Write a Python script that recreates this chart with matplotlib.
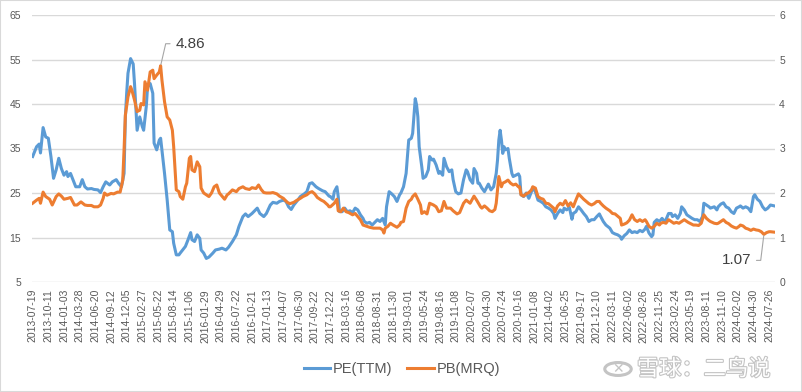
import matplotlib
matplotlib.use("Agg")
import matplotlib.pyplot as plt
import matplotlib.patheffects as pe
from matplotlib.patches import Rectangle, Circle
import numpy as np

# weekly category axis: tick label every 12 weeks
date_labels = ['2013-07-19', '2013-10-11', '2014-01-03', '2014-03-28', '2014-06-20', '2014-09-12',
               '2014-12-05', '2015-02-27', '2015-05-22', '2015-08-14', '2015-11-06', '2016-01-29',
               '2016-04-29', '2016-07-22', '2016-10-21', '2017-01-13', '2017-04-07', '2017-06-30',
               '2017-09-22', '2017-12-22', '2018-03-16', '2018-06-08', '2018-08-31', '2018-11-30',
               '2019-03-01', '2019-05-24', '2019-08-16', '2019-11-08', '2020-02-07', '2020-04-30',
               '2020-07-24', '2020-10-16', '2021-01-08', '2021-04-02', '2021-06-25', '2021-09-17',
               '2021-12-10', '2022-03-11', '2022-06-02', '2022-08-26', '2022-11-25', '2023-02-24',
               '2023-05-19', '2023-08-11', '2023-11-10', '2024-02-02', '2024-04-30', '2024-07-26']
n_weeks = 569

# PE(TTM): week index / value
pe_week = [0, 3, 5, 6, 8, 10, 12, 14, 16, 18, 20, 22, 24, 26, 27, 29, 31, 33, 36, 38, 40, 42, 45, 47, 50,
           52, 54, 56, 59, 61, 64, 66, 68, 70, 71, 72, 73, 75, 77, 78, 79, 80, 82, 84, 85, 87, 88, 90, 92,
           93, 95, 97, 98, 99, 101, 103, 105, 107, 108, 110, 112,
           113, 116, 117, 119, 121, 122, 124, 126, 128, 129, 131, 133, 135, 138, 140, 143, 145, 148, 150,
           153, 156, 158, 161, 163, 165, 168, 170, 172, 174, 177, 179, 182, 184, 187, 189, 192, 194, 196,
           198, 200, 203, 205, 208, 210, 212, 214, 217, 219, 222, 224, 227,
           228, 230, 231, 233, 234, 235, 237, 239, 241, 243, 245, 247, 249, 251, 253, 254, 256, 258, 260,
           262, 264, 266, 268, 270, 271, 273, 275, 277, 279, 281, 282, 284, 286, 287, 288, 290, 291, 293,
           294, 295, 296, 298, 299, 301, 303, 304, 306, 307, 309, 311, 312, 314, 315, 317, 319, 321, 322,
           324, 326, 328, 330, 332, 333, 335, 337, 338, 340, 341,
           342, 344, 346, 348, 349, 351, 353, 355, 356, 357, 358, 359, 360, 361, 362, 364, 365, 367, 368,
           370, 372, 373, 374, 376, 378, 380, 382, 383, 385, 387, 389, 391, 393, 395, 397, 399, 400, 402,
           404, 406, 407, 409, 411, 413, 414, 416, 418, 420, 422, 424, 426, 428, 430, 432, 434, 435, 437,
           439, 442, 444, 446, 448, 450, 451, 453, 455, 457,
           459, 461, 463, 465, 467, 469, 470, 472, 474, 475, 476, 478, 480, 482, 484, 485, 487, 489, 490,
           492, 494, 496, 497, 499, 501, 503, 505, 507, 509, 511, 513, 514, 516, 518, 519, 522, 524, 525,
           527, 529, 531, 533, 535, 537, 539, 541, 542, 544, 546, 548, 550, 552, 553, 555, 557, 559, 561,
           563, 565, 568]
pe_val = [33.2, 35.4, 36, 34, 39.7, 37.6, 37.3, 33.2, 28.3, 30.2, 32.8, 30.5, 29, 29.8, 28.7, 29.4, 27.9,
          26.4, 26.4, 28, 26.4, 25.9, 26, 25.8, 25.7, 25.1, 26.4, 27.5, 26.8, 27.5, 28, 27.1, 26.4, 29.4,
          42.1, 47.4, 51.9, 55.2, 54, 49.6, 44.4, 39.1, 42.1, 39.9, 39.1, 44.4, 48.9, 49.6, 47.4, 36.2, 34.7,
          36.9, 37.3, 34.7, 29.4, 23.5, 16.7, 16.3, 13.7, 11.1, 11.1,
          11.5, 12.6, 13, 14.5, 16.1, 14.5, 14.1, 15.6, 14.8, 12.2, 11.5, 10.3, 10.6, 11.5, 12.2, 12.4, 12.6,
          12.2, 12.8, 14.1, 15.6, 17.5, 19.7, 20.3, 19.7, 20.4, 21, 21.6, 20.4, 19.7, 20.4, 22.3, 22.9, 22.7,
          23.1, 23.4, 23.1, 21.9, 21.3, 22.3, 23.4, 24.2, 24.8, 25.3, 27.1, 27.3, 26.4, 26, 25.5, 25.3, 24.3,
          24.2, 23.6, 25.3, 26.4, 24.2, 20.8, 20.8, 21.6, 20.8, 21, 20.6, 21.6, 21.2, 20.1, 19.3, 18.6, 18.2,
          18.4, 17.8, 18.4, 19, 18.6, 19.3, 17.8, 21.9, 25.3, 24.8, 24.2, 23.1, 24.6, 25, 26.4, 29.4, 33.2,
          36.9, 37.3, 38.4, 46.2, 44.8, 42.1, 35.4, 30.9, 28.3, 28.7, 30.2, 33.2, 32.4, 32.6, 31.3, 29.4,
          29.8, 29, 32.8, 30.9, 29.8, 30.2, 28, 25.3, 24.8, 25, 28, 30.2, 29.8, 28, 27.2, 30.5, 29.4, 27.2,
          27.2, 26.1, 25.3, 26.4, 27, 25.7, 26.4, 29.4, 32.4, 36.9, 39.1, 36.9, 33.9, 35.4, 34.7, 35, 32.8,
          29.4, 28.7, 29, 29.3, 28.7, 24.6, 24.2, 25, 23.8, 25.3, 26.2, 25.3, 23.4, 23.1, 22.7, 21.9, 21.6,
          21.2, 20.4, 19.3, 20.4, 21.2, 20.6, 21.6, 21.2, 21.8, 19.1, 20.4, 20.8, 21.9, 21.2, 20.4, 19.7,
          18.6, 19, 19, 19.7, 20.3, 19.7, 18.6, 17.8, 17.1, 16.1, 15.8, 15.6, 15.2, 14.6, 15.4, 15.9, 16.7,
          16.1, 16.3, 16.1, 16.6, 16.3, 16.9, 17.5, 16, 15.2, 15.6, 18.4, 19, 18.6, 19.3, 18.6, 19, 20.4,
          20.4, 19.7, 20.1, 19.3, 20.4, 21.9, 21.2, 20.1, 19.7, 19.3, 19, 19, 18.6, 19.7, 22.7, 22.3, 21.9,
          21.6, 21.9, 21.2, 21.9, 22.5, 22.8, 21.9, 21.6, 20.8, 20.4, 21.6, 21.9, 22.1, 21.6, 21.9, 21.6,
          20.8, 24.2, 24.6, 23.6, 23.1, 21.9, 21.2, 21.6, 22.3, 22.1]

# PB(MRQ): week index / value
pb_week = [0, 3, 5, 6, 8, 10, 13, 15, 18, 20, 22, 24, 27, 29, 32, 34, 37, 40, 42, 45, 47, 50, 52, 54, 55,
           57, 60, 62, 65, 67, 69, 70, 71, 73, 75, 76, 78, 80, 82, 83, 85, 86, 88, 90, 92, 93, 95, 97, 98,
           99, 101, 103, 105, 107, 108, 110, 112,
           113, 115, 117, 118, 120, 121, 122, 124, 126, 128, 129, 131, 133, 135, 137, 139, 141, 143, 145,
           147, 149, 150, 153, 156, 158, 161, 163, 166, 168, 171, 173, 175, 177, 179, 182, 184, 187, 189,
           192, 195, 197, 200, 202, 205, 207, 210, 212, 214, 216, 218, 221, 223, 226, 227,
           228, 231, 233, 234, 236, 238, 240, 242, 245, 247, 249, 251, 253, 256, 258, 261, 263, 266, 268,
           269, 270, 272, 274, 276, 279, 281, 282, 284, 286, 288, 290, 291, 293, 295, 297, 298, 300, 302,
           304, 307, 309, 311, 313, 315, 317, 320, 322, 325, 327, 330, 332, 335, 337, 338, 340,
           343, 344, 346, 348, 350, 352, 354, 355, 356, 357, 359, 360, 362, 364, 366, 368, 370, 372, 373,
           374, 376, 378, 380, 382, 383, 385, 387, 389, 391, 393, 395, 397, 399, 400, 402, 404, 406, 408,
           410, 412, 414, 416, 418, 420, 422, 424, 426, 428, 430, 432, 434, 435, 437, 439, 442, 444, 446,
           448, 450, 451, 453, 455, 457,
           459, 461, 463, 465, 467, 469, 470, 472, 474, 476, 478, 480, 481, 483, 485, 487, 489, 491, 493,
           495, 497, 499, 501, 502, 504, 506, 508, 510, 512, 514, 516, 518, 519, 522, 524, 525, 527, 529,
           531, 533, 535, 537, 539, 541, 542, 544, 546, 548, 550, 552, 554, 556, 558, 560, 562, 564, 565,
           568]
pb_val = [1.77, 1.84, 1.88, 1.77, 2.02, 1.92, 1.86, 1.73, 1.92, 1.98, 1.93, 1.86, 1.88, 1.90, 1.73, 1.73,
          1.80, 1.73, 1.72, 1.72, 1.69, 1.69, 1.73, 1.88, 2.00, 1.95, 1.99, 1.98, 2.02, 2.02, 2.29, 2.97,
          3.75, 4.16, 4.39, 4.31, 4.09, 3.83, 3.86, 4.01, 3.98, 4.50, 4.31, 4.72, 4.76, 4.57, 4.65, 4.72,
          4.86, 4.54, 4.05, 3.71, 3.64, 3.41, 3.04, 2.07, 2.03,
          1.92, 1.86, 2.14, 2.22, 2.78, 2.82, 2.52, 2.48, 2.70, 2.59, 2.11, 2.00, 1.96, 1.92, 2.00, 2.14,
          2.18, 2.00, 1.93, 1.86, 1.96, 1.98, 2.07, 2.03, 2.10, 2.14, 2.10, 2.08, 2.12, 2.10, 2.18, 2.08,
          2.01, 2.00, 2.00, 2.01, 1.98, 1.93, 1.88, 1.79, 1.76, 1.79, 1.83, 1.88, 1.92, 1.96, 2.01, 2.03,
          1.98, 1.90, 1.84, 1.81, 1.73, 1.69,
          1.69, 1.77, 1.86, 1.60, 1.58, 1.66, 1.58, 1.56, 1.51, 1.54, 1.47, 1.40, 1.28, 1.25, 1.23, 1.21,
          1.21, 1.21, 1.17, 1.10, 1.21, 1.25, 1.32, 1.28, 1.23, 1.28, 1.34, 1.36, 1.66, 1.81, 1.86, 1.92,
          1.98, 1.86, 1.73, 1.54, 1.58, 1.53, 1.77, 1.73, 1.69, 1.58, 1.60, 1.81, 1.66, 1.66, 1.60, 1.53,
          1.56, 1.77, 1.84, 1.77, 1.88, 1.93, 1.84,
          1.69, 1.66, 1.71, 1.66, 1.60, 1.58, 1.63, 1.77, 2.07, 2.37, 2.14, 2.22, 2.25, 2.29, 2.22, 2.18,
          2.20, 2.14, 2.14, 1.96, 1.93, 1.98, 2.01, 2.07, 2.14, 2.11, 1.92, 1.88, 1.86, 1.77, 1.76, 1.71,
          1.66, 1.58, 1.71, 1.77, 1.73, 1.83, 1.71, 1.78, 1.69, 1.84, 1.98, 1.92, 1.86, 1.81, 1.76, 1.73,
          1.76, 1.81, 1.81, 1.77, 1.71, 1.66, 1.60, 1.54, 1.53, 1.48, 1.43, 1.28, 1.30, 1.33, 1.39,
          1.51, 1.40, 1.36, 1.40, 1.36, 1.40, 1.36, 1.25, 1.21, 1.25, 1.32, 1.28, 1.32, 1.34, 1.32, 1.40,
          1.36, 1.32, 1.34, 1.32, 1.36, 1.40, 1.36, 1.34, 1.31, 1.28, 1.28, 1.27, 1.32, 1.51, 1.43, 1.38,
          1.36, 1.32, 1.31, 1.32, 1.36, 1.40, 1.34, 1.31, 1.26, 1.23, 1.21, 1.25, 1.28, 1.26, 1.21, 1.19,
          1.16, 1.19, 1.17, 1.16, 1.13, 1.07, 1.11, 1.13, 1.13, 1.12]

pe_color = '#5B9BD5'
pb_color = '#ED7D31'
txt_color = '#595959'

plt.rcParams['font.family'] = ['Liberation Sans', 'DejaVu Sans']

fig = plt.figure(figsize=(8.02, 3.92), dpi=100)
ax = fig.add_axes([32 / 802, 1 - 282 / 392, 743 / 802, 267 / 392])
ax2 = ax.twinx()

ax.plot(pe_week, pe_val, color=pe_color, lw=2.2, solid_joinstyle='round', label='PE(TTM)')
ax2.plot(pb_week, pb_val, color=pb_color, lw=2.2, solid_joinstyle='round', label='PB(MRQ)')

ax.set_xlim(-0.5, n_weeks - 0.5)
ax.set_ylim(5, 65)
ax2.set_ylim(0, 6)
ax.set_yticks(np.arange(5, 66, 10))
ax2.set_yticks(np.arange(0, 7, 1))
ax.set_xticks(np.arange(len(date_labels)) * 12)
ax.set_xticklabels(date_labels, rotation=90)

ax.grid(axis='y', color='#d9d9d9', lw=1)
ax.set_axisbelow(True)
for a in (ax, ax2):
    for s in a.spines.values():
        s.set_visible(False)
ax.tick_params(axis='both', length=0, colors=txt_color, labelsize=7.5)
ax.tick_params(axis='y', pad=8)
ax.tick_params(axis='x', pad=5)
ax2.tick_params(axis='y', length=0, colors=txt_color, labelsize=7.5, pad=3)

# data labels
i_max = pb_val.index(4.86)
ax2.annotate('4.86', xy=(pb_week[i_max], pb_val[i_max]), xytext=(15, 22), textcoords='offset pixels',
             ha='left', va='center', fontsize=11, color='#404040',
             arrowprops=dict(arrowstyle='-', color='#a6a6a6', lw=0.8,
                             connectionstyle='angle,angleA=0,angleB=77,rad=0', shrinkA=2, shrinkB=1))
i_last = pb_val.index(1.07)
ax2.annotate('1.07', xy=(pb_week[i_last], pb_val[i_last]), xytext=(-13, -26), textcoords='offset pixels',
             ha='right', va='center', fontsize=11, color='#404040',
             arrowprops=dict(arrowstyle='-', color='#a6a6a6', lw=0.8,
                             connectionstyle='angle,angleA=0,angleB=83,rad=0', shrinkA=2, shrinkB=1))

h1, l1 = ax.get_legend_handles_labels()
h2, l2 = ax2.get_legend_handles_labels()
fig.legend(h1 + h2, l1 + l2, loc='center', bbox_to_anchor=(402 / 802, 1 - 369 / 392), ncol=2,
           frameon=False, fontsize=10.5, handlelength=1.8, handletextpad=0.2, columnspacing=1.0,
           labelcolor=txt_color)

# watermark
fig.text(637 / 802, 1 - 369 / 392, '雪球：二鸟说', fontsize=16, color='white',
         family=['Noto Sans CJK SC', 'DejaVu Sans'], ha='left', va='center',
         path_effects=[pe.withStroke(linewidth=1.6, foreground='#c4c4c4')])
fig.patches.append(Circle((618 / 802, 1 - 369 / 392), 0.0165, transform=fig.transFigure,
                          fill=False, edgecolor='#c4c4c4', lw=2.2))
fig.text(618 / 802, 1 - 369 / 392, '✕', fontsize=10, color='#c4c4c4', ha='center', va='center',
         family=['DejaVu Sans'])

fig.patches.append(Rectangle((0, 0), 1, 1, transform=fig.transFigure, fill=False,
                             edgecolor='#d9d9d9', lw=1.5))

fig.savefig('out.png', dpi=100, facecolor='white')
